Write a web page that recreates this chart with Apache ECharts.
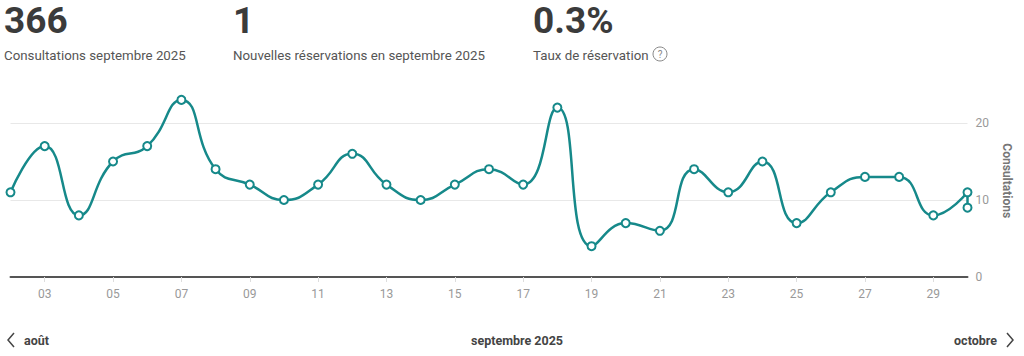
<!DOCTYPE html>
<html>
<head>
<meta charset="utf-8">
<script src="https://cdn.jsdelivr.net/npm/echarts@6/dist/echarts.min.js"></script>
<style>
html,body{margin:0;padding:0;background:#fff;}
#chart{width:1024px;height:356px;}
</style>
</head>
<body>
<div id="chart"></div>
<script>
// Data
const categories = ['02','03','04','05','06','07','08','09','10','11','12','13','14','15','16','17','18','19','20','21','22','23','24','25','26','27','28','29','30'];
const pointDays = ['02','03','04','05','06','07','08','09','10','11','12','13','14','15','16','17','18','19','20','21','22','23','24','25','26','27','28','29','30','30'];
const consultations = [11,17,8,15,17,23,14,12,10,12,16,12,10,12,14,12,22,4,7,6,14,11,15,7,11,13,13,8,11,9];
const yTicks = [0, 10, 20];
const kpiValues = ['366', '1', '0.3%'];
const kpiLabels = ['Consultations septembre 2025', 'Nouvelles réservations en septembre 2025', 'Taux de réservation'];
const navLabels = ['août', 'septembre 2025', 'octobre'];

const chart = echarts.init(document.getElementById('chart'), null, {renderer: 'svg'});
const FONT = 'Roboto, "Noto Sans", sans-serif';
const kpiX = [4, 233, 533];

const graphics = [];
kpiValues.forEach((v, i) => {
  graphics.push({type: 'text', x: kpiX[i], y: 20, style: {text: v, font: 'bold 37px ' + FONT, fill: '#3b3b3b', verticalAlign: 'middle'}});
  graphics.push({type: 'text', x: kpiX[i], y: 55, style: {text: kpiLabels[i], font: '13.3px ' + FONT, fill: '#555', verticalAlign: 'middle'}});
});
graphics.push({type: 'circle', shape: {cx: 660, cy: 54, r: 7}, style: {fill: 'none', stroke: '#888', lineWidth: 1}});
graphics.push({type: 'text', x: 660, y: 54, style: {text: '?', font: '10px ' + FONT, fill: '#888', align: 'center', verticalAlign: 'middle'}});
// Bottom navigation
graphics.push({type: 'polyline', shape: {points: [[14, 333], [8, 340], [14, 347]]}, style: {stroke: '#444', lineWidth: 1.5, fill: 'none'}});
graphics.push({type: 'text', x: 24, y: 340, style: {text: navLabels[0], font: 'bold 12.5px ' + FONT, fill: '#444', verticalAlign: 'middle'}});
graphics.push({type: 'text', x: 517, y: 340, style: {text: navLabels[1], font: 'bold 12.5px ' + FONT, fill: '#444', align: 'center', verticalAlign: 'middle'}});
graphics.push({type: 'text', x: 997, y: 340, style: {text: navLabels[2], font: 'bold 12.5px ' + FONT, fill: '#444', align: 'right', verticalAlign: 'middle'}});
graphics.push({type: 'polyline', shape: {points: [[1007, 333], [1013, 340], [1007, 347]]}, style: {stroke: '#444', lineWidth: 1.5, fill: 'none'}});

const oddIdx = (i) => i % 2 === 1;

chart.setOption({
  animation: false,
  textStyle: {fontFamily: FONT},
  graphic: graphics,
  grid: {left: 10.5, right: 56.5, top: 84.5, bottom: 79},
  xAxis: {
    type: 'category',
    data: categories,
    boundaryGap: false,
    axisLine: {show: true, lineStyle: {color: '#555', width: 2}},
    axisTick: {show: true, interval: oddIdx, length: 5, lineStyle: {color: '#ddd'}},
    axisLabel: {interval: oddIdx, color: '#999', fontSize: 12, margin: 11, fontFamily: FONT},
    splitLine: {show: false}
  },
  yAxis: {
    type: 'value',
    position: 'right',
    min: yTicks[0],
    max: 25,
    interval: yTicks[1] - yTicks[0],
    name: 'Consultations',
    nameLocation: 'middle',
    nameRotate: -90,
    nameGap: 33,
    nameTextStyle: {color: '#777', fontSize: 12, fontWeight: 'bold', fontFamily: FONT},
    axisLine: {show: false},
    axisTick: {show: false},
    axisLabel: {color: '#999', fontSize: 12, margin: 8, showMaxLabel: false, fontFamily: FONT,
      formatter: (v) => yTicks.includes(v) ? String(v) : ''},
    splitLine: {show: true, showMaxLine: false, lineStyle: {color: '#e8e8e8', width: 1}}
  },
  series: [{
    type: 'line',
    data: consultations.map((v, i) => [pointDays[i], v]),
    smooth: true,
    symbol: 'emptyCircle',
    symbolSize: 8,
    clip: false,
    lineStyle: {color: '#16898a', width: 2.5},
    itemStyle: {color: '#16898a', borderColor: '#16898a', borderWidth: 2}
  }]
});
</script>
</body>
</html>
